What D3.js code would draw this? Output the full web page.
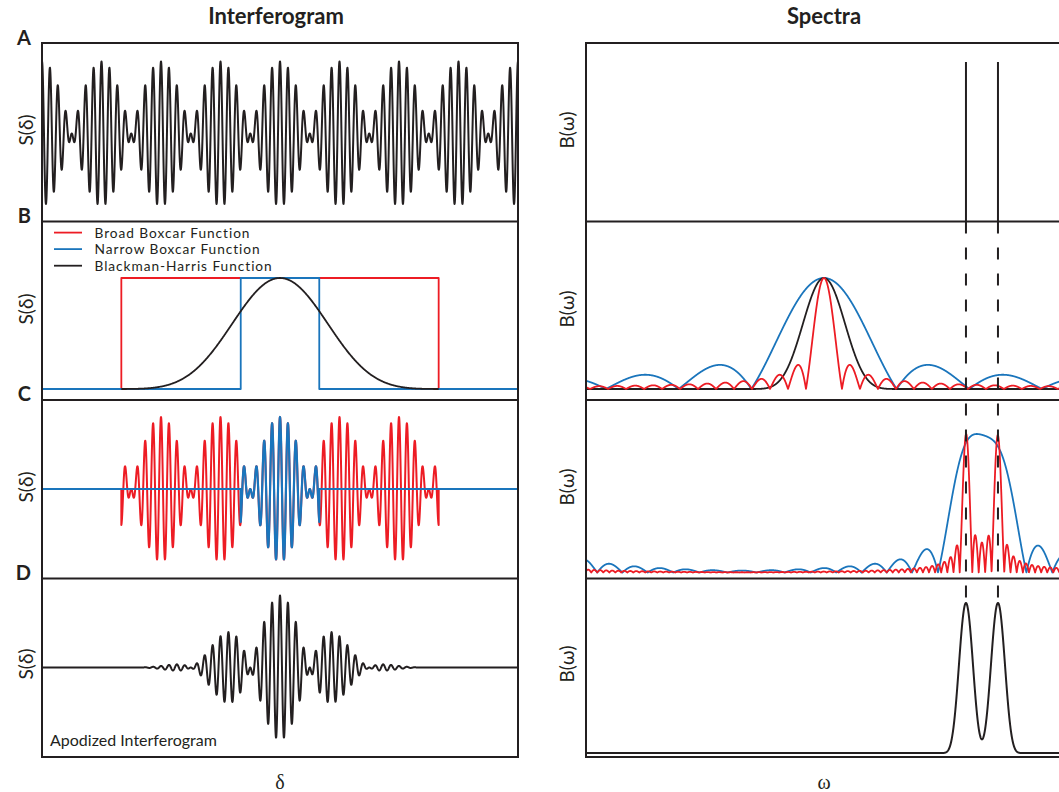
<!DOCTYPE html>
<html>
<head>
<meta charset="utf-8">
<script src="https://cdn.jsdelivr.net/npm/d3@7"></script>
<style>
  html, body { margin: 0; padding: 0; background: #fff; }
  svg { display: block; }
</style>
</head>
<body>
<svg id="chart" width="1059" height="792"></svg>
<script>
// Two emission lines of the source (frequency units)
const lineFrequencies = [7, 8];
// Optical path difference covered by the interferogram panels
const deltaRange = [-4, 4];
// Truncation limits of the apodization windows along δ
const broadBoxcar = [-8 / 3, 8 / 3];
const narrowBoxcar = [-0.66, 0.66];
// 4-term Blackman-Harris coefficients
const blackmanHarrisCoeffs = [0.35875, 0.48829, 0.14128, 0.01168];
// Frequency span shown in spectra panels A, C and D
const omegaRange = [-4.875, 9.97];
// Frequency offset span for the instrument line shapes in panel B
const lineShapeRange = [-2.48, 2.47];

const rowLabels = ["A", "B", "C", "D"];
const columnTitles = ["Interferogram", "Spectra"];
const legendLabels = ["Broad Boxcar Function", "Narrow Boxcar Function", "Blackman-Harris Function"];
const yLabels = ["S(δ)", "B(ω)"];
const xLabels = ["δ", "ω"];
const noteLabel = "Apodized Interferogram";

// ---------------------------------------------------------------- layout
const ink = "#231f20", red = "#ed1c24", blue = "#1a75bc";
const sansFont = "Lato, 'Open Sans', sans-serif";
const L = { x0: 42, x1: 518 }, R = { x0: 586, x1: 1061 };
const rowTop = [43, 221.5, 400, 578.5], rowBottom = 757;

const svg = d3.select("#chart");

const xDelta = d3.scaleLinear().domain(deltaRange).range([L.x0, L.x1]);
const xOmega = d3.scaleLinear().domain(omegaRange).range([R.x0, R.x1]);
const xShape = d3.scaleLinear().domain(lineShapeRange).range([R.x0, R.x1]);

// interferogram rows share one amplitude scale (36 px per unit)
const ySignal = c => d3.scaleLinear().domain([-2, 2]).range([c + 72, c - 72]);
const yA = ySignal(133.5), yC = ySignal(489), yD = ySignal(667.5);
const yWin = d3.scaleLinear().domain([0, 1]).range([389, 278]);
// spectra rows
const ySpecA = d3.scaleLinear().domain([0, 1]).range([221.5, 62]);
const ySpecB = d3.scaleLinear().domain([0, 1]).range([389, 278]);
const ySpecC = d3.scaleLinear().domain([0, 1]).range([572.5, 434]);
const ySpecD = d3.scaleLinear().domain([0, 1]).range([753, 603]);

// ---------------------------------------------------------------- model
const span = w => w[1] - w[0];
const centre = w => (w[0] + w[1]) / 2;
const sinc = x => { if (Math.abs(x) < 1e-12) return 1; const p = Math.PI * x; return Math.sin(p) / p; };

const interferogram = d => d3.sum(lineFrequencies, f => Math.cos(2 * Math.PI * f * d));
const blackmanHarris = w => d => {
  const t = (d - centre(w)) / span(w);
  if (Math.abs(t) > 0.5) return 0;
  return d3.sum(blackmanHarrisCoeffs, (a, k) => a * Math.cos(2 * Math.PI * k * t));
};

// Fourier transforms of the windows (instrument line shapes), unit height
const boxcarShape = w => v => sinc(span(w) * v);
const blackmanHarrisShape = w => v => {
  const u = span(w) * v, a = blackmanHarrisCoeffs;
  let s = a[0] * sinc(u);
  for (let k = 1; k < a.length; k++) s += a[k] / 2 * (sinc(u - k) + sinc(u + k));
  return s / a[0];
};
// spectrum of the windowed two-line interferogram (with negative-frequency images)
const spectrum = shape => w => Math.abs(d3.sum(lineFrequencies, f => shape(w - f) + shape(w + f)));

function sample(fn, dom, n) {
  return d3.range(n + 1).map(i => {
    const v = dom[0] + (dom[1] - dom[0]) * i / n;
    return [v, fn(v)];
  });
}
function normalise(pts) {
  const m = d3.max(pts, p => p[1]);
  return pts.map(p => [p[0], p[1] / m]);
}

function drawPath(pts, x, y, color, width) {
  const line = d3.line().x(p => x(p[0])).y(p => y(p[1]));
  return svg.append("path")
    .attr("d", line(pts))
    .attr("fill", "none")
    .attr("stroke", color)
    .attr("stroke-width", width)
    .attr("stroke-linejoin", "round");
}

// ---------------------------------------------------------------- left column
// A: raw interferogram
drawPath(sample(interferogram, deltaRange, 3000), xDelta, yA, ink, 2);

// B: apodization functions
const winBroad = [[broadBoxcar[0], 0], [broadBoxcar[0], 1], [broadBoxcar[1], 1], [broadBoxcar[1], 0]];
const winNarrow = [[deltaRange[0], 0], [narrowBoxcar[0], 0], [narrowBoxcar[0], 1],
                   [narrowBoxcar[1], 1], [narrowBoxcar[1], 0], [deltaRange[1], 0]];
drawPath(winBroad, xDelta, yWin, red, 1.8);
drawPath(winNarrow, xDelta, yWin, blue, 1.8);
drawPath(sample(blackmanHarris(broadBoxcar), broadBoxcar, 800), xDelta, yWin, ink, 1.8);

// C: boxcar-truncated interferograms
function truncated(w, withBaseline) {
  const inner = sample(interferogram, w, Math.round(span(w) * 400));
  const pts = [[w[0], 0], ...inner, [w[1], 0]];
  return withBaseline ? [[deltaRange[0], 0], ...pts, [deltaRange[1], 0]] : pts;
}
drawPath(truncated(broadBoxcar, false), xDelta, yC, red, 2);
drawPath(truncated(narrowBoxcar, true), xDelta, yC, blue, 2.2);

// D: Blackman-Harris apodized interferogram
const bh = blackmanHarris(broadBoxcar);
drawPath(sample(d => interferogram(d) * bh(d), deltaRange, 3200), xDelta, yD, ink, 2);

// ---------------------------------------------------------------- right column
// A: true line spectrum
svg.append("g").selectAll("line").data(lineFrequencies).join("line")
  .attr("x1", f => xOmega(f)).attr("x2", f => xOmega(f))
  .attr("y1", ySpecA(0)).attr("y2", ySpecA(1))
  .attr("stroke", ink).attr("stroke-width", 2);

// B: instrument line shapes of the three windows
const nB = 2600;
drawPath(sample(v => Math.abs(boxcarShape(narrowBoxcar)(v)), lineShapeRange, nB), xShape, ySpecB, blue, 1.8);
drawPath(sample(v => Math.abs(blackmanHarrisShape(broadBoxcar)(v)), lineShapeRange, nB), xShape, ySpecB, ink, 1.8);
drawPath(sample(v => Math.abs(boxcarShape(broadBoxcar)(v)), lineShapeRange, nB), xShape, ySpecB, red, 1.8);

// C: spectra of the boxcar-truncated interferograms
const nC = 4000;
drawPath(normalise(sample(spectrum(boxcarShape(narrowBoxcar)), omegaRange, nC)), xOmega, ySpecC, blue, 1.8);
drawPath(normalise(sample(spectrum(boxcarShape(broadBoxcar)), omegaRange, nC)), xOmega, ySpecC, red, 1.8);

// D: spectrum of the apodized interferogram
drawPath(normalise(sample(spectrum(blackmanHarrisShape(broadBoxcar)), omegaRange, nC)), xOmega, ySpecD, ink, 2);

// dashed guides at the true line positions
svg.append("g").selectAll("line").data(lineFrequencies).join("line")
  .attr("x1", f => xOmega(f)).attr("x2", f => xOmega(f))
  .attr("y1", rowTop[1]).attr("y2", ySpecD(1))
  .attr("stroke", ink).attr("stroke-width", 2)
  .attr("stroke-dasharray", "12 14");

// ---------------------------------------------------------------- frames
const frame = svg.append("g").attr("stroke", ink).attr("stroke-width", 2).attr("fill", "none");
const hLines = [...rowTop, rowBottom];
frame.selectAll(".hl").data(hLines).join("line")
  .attr("x1", L.x0).attr("x2", L.x1).attr("y1", d => d).attr("y2", d => d);
frame.selectAll(".hr").data(hLines).join("line")
  .attr("x1", R.x0).attr("x2", R.x1 + 10).attr("y1", d => d).attr("y2", d => d);
frame.selectAll(".v").data([L.x0, L.x1, R.x0]).join("line")
  .attr("x1", d => d).attr("x2", d => d).attr("y1", rowTop[0] - 1).attr("y2", rowBottom + 1);

// ---------------------------------------------------------------- text
svg.append("g").selectAll("text").data(columnTitles).join("text")
  .attr("x", (d, i) => i === 0 ? 276 : 824).attr("y", 23.5)
  .attr("text-anchor", "middle")
  .attr("font-family", sansFont).attr("font-weight", 700).attr("font-size", 22)
  .attr("fill", ink).text(d => d);

const labelBase = [44.5, 222.5, 401, 579.5];
svg.append("g").selectAll("text").data(rowLabels).join("text")
  .attr("x", 31).attr("y", (d, i) => labelBase[i])
  .attr("text-anchor", "end")
  .attr("font-family", sansFont).attr("font-weight", 700).attr("font-size", 20)
  .attr("fill", ink).text(d => d);

const rowMid = [130, 309, 487, 664];
const yTitle = svg.append("g");
rowMid.forEach(m => {
  yTitle.append("text")
    .attr("transform", `translate(33,${m}) rotate(-90)`)
    .attr("text-anchor", "middle")
    .attr("font-family", sansFont).attr("font-size", 19).attr("fill", ink)
    .text(yLabels[0]);
  yTitle.append("text")
    .attr("transform", `translate(574,${m}) rotate(-90)`)
    .attr("text-anchor", "middle")
    .attr("font-family", sansFont).attr("font-size", 19).attr("fill", ink)
    .text(yLabels[1]);
});

svg.append("g").selectAll("text").data(xLabels).join("text")
  .attr("x", (d, i) => i === 0 ? 280 : 824).attr("y", 789)
  .attr("text-anchor", "middle")
  .attr("font-family", "'Liberation Serif', 'DejaVu Serif', serif").attr("font-size", 20)
  .attr("fill", ink).text(d => d);

svg.append("text")
  .attr("x", 50).attr("y", 746)
  .attr("font-family", sansFont).attr("font-size", 16).attr("fill", ink)
  .text(noteLabel);

// legend for the apodization functions
const legendColors = [red, blue, ink];
const legendY = [232.6, 249.1, 265.7];
const legend = svg.append("g");
legendLabels.forEach((t, i) => {
  legend.append("line")
    .attr("x1", 54).attr("x2", 82).attr("y1", legendY[i]).attr("y2", legendY[i])
    .attr("stroke", legendColors[i]).attr("stroke-width", 1.8);
  legend.append("text")
    .attr("x", 94.5).attr("y", legendY[i] + 5)
    .attr("font-family", sansFont).attr("font-size", 13.7)
    .attr("letter-spacing", "0.95px").attr("fill", ink)
    .text(t);
});
</script>
</body>
</html>
